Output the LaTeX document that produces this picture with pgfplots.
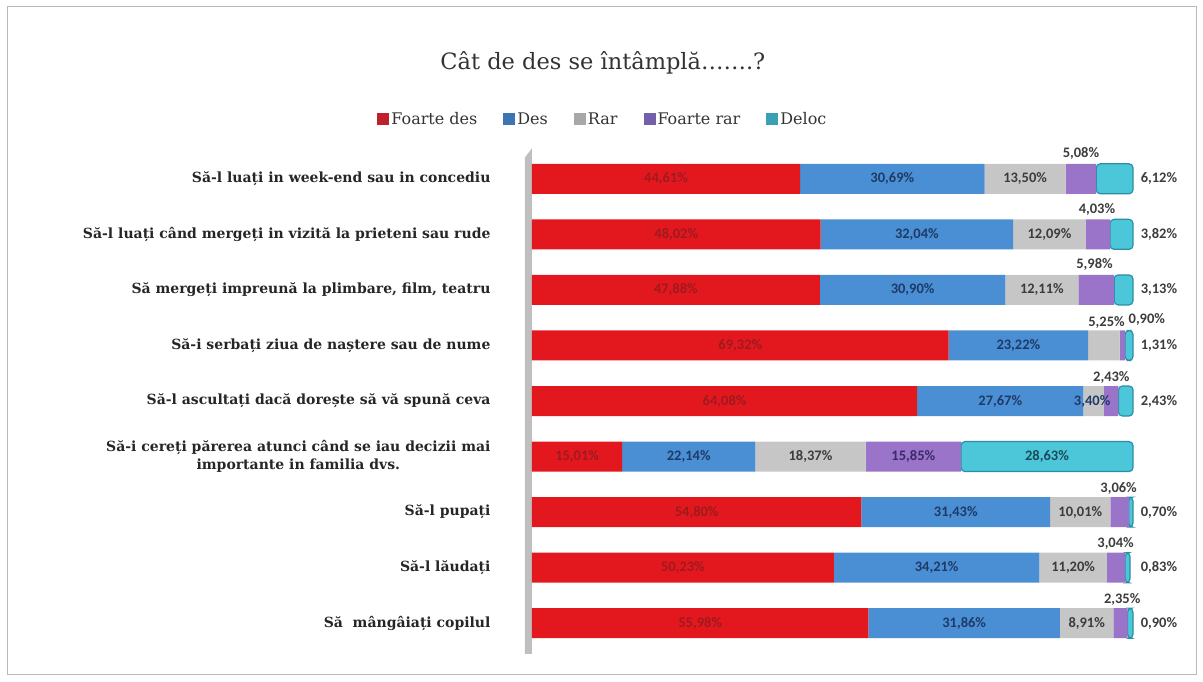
\documentclass[border=0pt]{standalone}
\usepackage{fontspec}
\setmainfont{DejaVu Serif}
\newfontfamily\numfont{Carlito}
\usepackage{pgfplots}
\pgfplotsset{compat=1.18}
\definecolor{rMain}{HTML}{E3181F}
\definecolor{bMain}{HTML}{4A8FD4}
\definecolor{gMain}{HTML}{C6C6C6}
\definecolor{pMain}{HTML}{9A74C8}
\definecolor{cMain}{HTML}{4CC7D9}
\definecolor{cDark}{HTML}{2A8FA6}
\definecolor{lRed}{HTML}{C0202A}
\definecolor{lBlue}{HTML}{3C74B4}
\definecolor{lGray}{HTML}{A8A8A8}
\definecolor{lPurp}{HTML}{7460A8}
\definecolor{lTeal}{HTML}{3AA0B6}
\definecolor{tRed}{HTML}{9E1A1E}
\definecolor{tBlue}{HTML}{1E3A66}
\definecolor{tGray}{HTML}{3C3C3C}
\definecolor{tPurp}{HTML}{3A2A6A}
\definecolor{tTeal}{HTML}{1C4A5A}
\begin{document}
\begin{tikzpicture}
\path[use as bounding box] (0,0) rectangle (1203pt,681pt);
\draw[gray!55, line width=1pt] (7pt,7pt) rectangle (1196pt,674pt);
\begin{axis}[
  at={(532pt,30pt)}, anchor=south west, scale only axis,
  width=601pt, height=500pt,
  xmin=0, xmax=100, ymin=0.5, ymax=9.5, y dir=reverse,
  xbar stacked, bar width=30pt, clip=false,
  axis line style={draw=none}, major tick style={draw=none},
  xtick=\empty, ytick={1,...,9},
  yticklabels={Să-l luați in week-end sau in concediu,
    Să-l luați când mergeți in vizită la prieteni sau rude,
    Să mergeți impreună la plimbare{,} film{,} teatru,
    Să-i serbați ziua de naștere sau de nume,
    Să-l ascultați dacă dorește să vă spună ceva,
    {Să-i cereți părerea atunci când se iau decizii mai\\importante in familia dvs.},
    Să-l pupați, Să-l lăudați, Să~ mângâiați copilul},
  yticklabel style={font=\bfseries\fontsize{14}{18}\selectfont, align=center, xshift=-38pt, text=black!85},
  title={Cât de des se întâmplă…….?},
  title style={at={(0.118,1.152)}, anchor=base, font=\fontsize{22.5}{26}\selectfont, text=black!80},
  legend columns=5,
  legend style={draw=none, at={(0.118,1.064)}, anchor=center, font=\fontsize{16}{18}\selectfont, text=black!80,
    /tikz/every even column/.append style={column sep=24pt}},
  legend image code/.code={\fill[#1, draw=none, sharp corners] (1pt,-6pt) rectangle (13pt,6pt);},
]
\addplot[draw=none, fill=rMain, legend image post style={fill=lRed}] coordinates
 {(44.61,1) (48.02,2) (47.88,3) (69.32,4) (64.08,5) (15.01,6) (54.80,7) (50.23,8) (55.98,9)};
\addplot[draw=none, fill=bMain, legend image post style={fill=lBlue}] coordinates
 {(30.69,1) (32.04,2) (30.90,3) (23.22,4) (27.67,5) (22.14,6) (31.43,7) (34.21,8) (31.86,9)};
\addplot[draw=none, fill=gMain, legend image post style={fill=lGray}] coordinates
 {(13.50,1) (12.09,2) (12.11,3) (5.25,4) (3.40,5) (18.37,6) (10.01,7) (11.20,8) (8.91,9)};
\addplot[draw=none, fill=pMain, legend image post style={fill=lPurp}] coordinates
 {(5.08,1) (4.03,2) (5.98,3) (0.90,4) (2.43,5) (15.85,6) (3.06,7) (3.04,8) (2.35,9)};
\addplot[draw=cDark, line width=1.2pt, rounded corners=4pt, fill=cMain, legend image post style={fill=lTeal}] coordinates
 {(6.12,1) (3.82,2) (3.13,3) (1.31,4) (2.43,5) (28.63,6) (0.70,7) (0.83,8) (0.90,9)};
\legend{Foarte des, Des, Rar, Foarte rar, Deloc}
\fill[gray!50] (axis cs:-1.2,0.62) -- (axis cs:0,0.45) -- (axis cs:0,9.55) -- (axis cs:-1.2,9.55) -- cycle;
\end{axis}
\begin{axis}[
  at={(532pt,30pt)}, anchor=south west, scale only axis,
  width=601pt, height=500pt,
  xmin=0, xmax=100, ymin=0.5, ymax=9.5, y dir=reverse,
  hide axis, clip=false,
  every axis plot/.append style={draw=none, mark=none, nodes near coords={\pgfplotspointmeta\%}, point meta=explicit symbolic},
]
\addplot[nodes near coords style={anchor=center, font=\numfont\bfseries\fontsize{14.5}{16}\selectfont, text=tRed}] table[meta=l] {
x y l
22.305 1 44,61
24.01 2 48,02
23.94 3 47,88
34.66 4 69,32
32.04 5 64,08
7.505 6 15,01
27.40 7 54,80
25.115 8 50,23
27.99 9 55,98
};
\addplot[nodes near coords style={anchor=center, font=\numfont\bfseries\fontsize{14.5}{16}\selectfont, text=tBlue}] table[meta=l] {
x y l
59.955 1 30,69
64.04 2 32,04
63.33 3 30,90
80.93 4 23,22
77.915 5 27,67
26.08 6 22,14
70.515 7 31,43
67.335 8 34,21
71.91 9 31,86
93.2 5 3,40
};
\addplot[nodes near coords style={anchor=center, font=\numfont\bfseries\fontsize{14.5}{16}\selectfont, text=tGray}] table[meta=l] {
x y l
82.05 1 13,50
86.105 2 12,09
84.835 3 12,11
46.335 6 18,37
91.235 7 10,01
90.04 8 11,20
92.295 9 8,91
};
\addplot[nodes near coords style={anchor=center, font=\numfont\bfseries\fontsize{14.5}{16}\selectfont, text=tGray}] table[meta=l] {
x y l
91.34 0.55 5,08
94.0 1.55 4,03
93.6 2.55 5,98
95.6 3.58 5,25
102.3 3.54 0,90
96.4 4.57 2,43
97.6 6.57 3,06
97.1 7.57 3,04
98.2 8.57 2,35
};
\addplot[nodes near coords style={anchor=west, font=\numfont\bfseries\fontsize{14.5}{16}\selectfont, text=tGray}] table[meta=l] {
x y l
100.7 1 6,12
100.7 2 3,82
100.7 3 3,13
100.7 4 1,31
100.7 5 2,43
100.7 7 0,70
100.7 8 0,83
100.7 9 0,90
};
\addplot[nodes near coords style={anchor=center, font=\numfont\bfseries\fontsize{14.5}{16}\selectfont, text=tPurp}] table[meta=l] {
x y l
63.445 6 15,85
};
\addplot[nodes near coords style={anchor=center, font=\numfont\bfseries\fontsize{14.5}{16}\selectfont, text=tTeal}] table[meta=l] {
x y l
85.685 6 28,63
};
\end{axis}
\end{tikzpicture}
\end{document}
